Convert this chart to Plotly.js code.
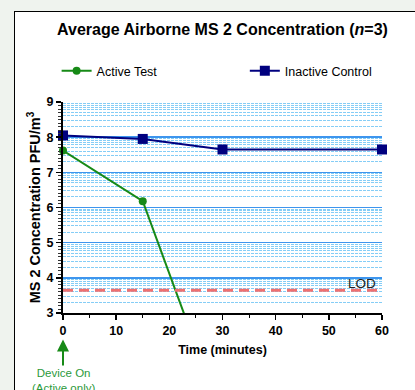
<!DOCTYPE html>
<html>
<head>
<meta charset="utf-8">
<script src="https://cdn.plot.ly/plotly-3.0.1.min.js"></script>
<style>
  html, body { margin: 0; padding: 0; background: #eff3ee; width: 415px; height: 390px; overflow: hidden; }
  #frame { position: absolute; left: 14px; top: 11px; width: 420px; height: 400px; background: #ffffff; border-left: 1px solid #000; border-top: 1px solid #000; }
  #chart { position: absolute; left: 0; top: 0; width: 415px; height: 390px; }
</style>
</head>
<body>
<div id="frame"></div>
<div id="chart"></div>
<script>
// ---- data ----
const activeTime = [0, 15, 30];
const activeConc = [7.62, 6.18, 0.0];
const inactiveTime = [0, 15, 30, 60];
const inactiveConc = [8.05, 7.95, 7.65, 7.65];
const lodValue = 3.65;
const xTicks = [0, 10, 20, 30, 40, 50, 60];
const yTicks = [3, 4, 5, 6, 7, 8, 9];
const seriesNames = ["Active Test", "Inactive Control"];

// log-style minor grid positions within each decade
const minorGrid = [];
for (let d = 3; d < 9; d++) {
  for (let k = 2; k <= 9; k++) minorGrid.push(d + Math.log10(k));
}

const green = "#178a17";
const navy = "#00007f";

const traces = [
  {
    x: activeTime, y: activeConc, name: seriesNames[0], type: "scatter", mode: "lines+markers",
    line: { color: green, width: 2 }, marker: { color: green, size: 8, symbol: "circle" },
    cliponaxis: false, legend: "legend"
  },
  {
    x: inactiveTime, y: inactiveConc, name: seriesNames[1], type: "scatter", mode: "lines+markers",
    line: { color: navy, width: 2 }, marker: { color: navy, size: 10, symbol: "square" },
    cliponaxis: false, legend: "legend2"
  }
];

const font = "Liberation Sans, Arial, sans-serif";
const legendStyle = (xpos) => ({
  orientation: "h", x: xpos, xref: "paper", xanchor: "left",
  y: 1.146, yref: "paper", yanchor: "middle",
  font: { size: 12.5, family: font, color: "#000" },
  bgcolor: "rgba(0,0,0,0)", borderwidth: 0
});

const layout = {
  width: 415, height: 390,
  paper_bgcolor: "rgba(0,0,0,0)",
  plot_bgcolor: "rgba(0,0,0,0)",
  margin: { l: 63, r: 33, t: 102, b: 77 },
  font: { family: font, color: "#000", size: 12 },
  title: {
    text: "<b>Average Airborne MS 2 Concentration (<i>n</i>=3)</b>",
    font: { size: 16, family: font, color: "#000" },
    x: 0.5, xref: "paper", xanchor: "center",
    y: 1 - 29 / 390, yref: "container", yanchor: "middle"
  },
  showlegend: true,
  legend: legendStyle(-0.02),
  legend2: legendStyle(0.57),
  xaxis: {
    range: [0, 60], tickvals: xTicks, ticktext: xTicks.map(String),
    showline: true, linecolor: "#000", linewidth: 2,
    ticks: "outside", ticklen: 5, tickwidth: 1.5, tickcolor: "#000",
    tickfont: { size: 12.5, family: font, color: "#000", weight: "bold" },
    showgrid: false, zeroline: false,
    minor: { dtick: 5, ticks: "outside", ticklen: 3, tickwidth: 1, tickcolor: "#000", showgrid: false },
    title: { text: "<b>Time (minutes)</b>", font: { size: 12.5, family: font }, standoff: 8 }
  },
  yaxis: {
    range: [3, 9], tickvals: yTicks, ticktext: yTicks.map(String),
    showline: true, linecolor: "#000", linewidth: 2,
    ticks: "outside", ticklen: 5, tickwidth: 1.5, tickcolor: "#000",
    tickfont: { size: 12.5, family: font, color: "#000", weight: "bold" },
    showgrid: true, gridcolor: "#3d95ee", gridwidth: 1.5, zeroline: false,
    minor: { dtick: 0.1, ticks: "outside", ticklen: 3, tickwidth: 1, tickcolor: "#333", showgrid: false },
    title: { text: "<b>MS 2 Concentration PFU/m<sup>3</sup></b>", font: { size: 14.5, family: font }, standoff: 2 }
  },
  yaxis2: {
    range: [3, 9], overlaying: "y", side: "left", anchor: "x",
    tickvals: minorGrid, showticklabels: false, ticks: "",
    showgrid: true, gridcolor: "#85cdf6", gridwidth: 1, griddash: "3px,1px",
    showline: false, zeroline: false
  },
  shapes: [
    { type: "line", xref: "paper", x0: 0, x1: 1, yref: "y", y0: lodValue, y1: lodValue,
      line: { color: "#f07070", width: 3, dash: "10px,6px" }, layer: "above" }
  ],
  annotations: [
    { x: 60, y: lodValue, xref: "x", yref: "y", text: "LOD", showarrow: false,
      xanchor: "right", yanchor: "bottom", xshift: -4, yshift: -3,
      font: { size: 13.5, family: font, color: "#222" } },
    { x: 0, y: -0.125, xref: "x", yref: "paper", text: "Device On<br>(Active only)",
      showarrow: true, arrowhead: 2, arrowsize: 1.2, arrowwidth: 2, arrowcolor: green,
      ax: 0, ay: 41, font: { size: 11.5, family: font, color: "#2b9a3b" } }
  ]
};

// invisible trace to activate yaxis2 gridlines
traces.push({ x: [0], y: [3], yaxis: "y2", type: "scatter", mode: "markers",
  marker: { opacity: 0 }, showlegend: false, hoverinfo: "skip" });

Plotly.newPlot("chart", traces, layout, { displayModeBar: false, staticPlot: true });
</script>
</body>
</html>
